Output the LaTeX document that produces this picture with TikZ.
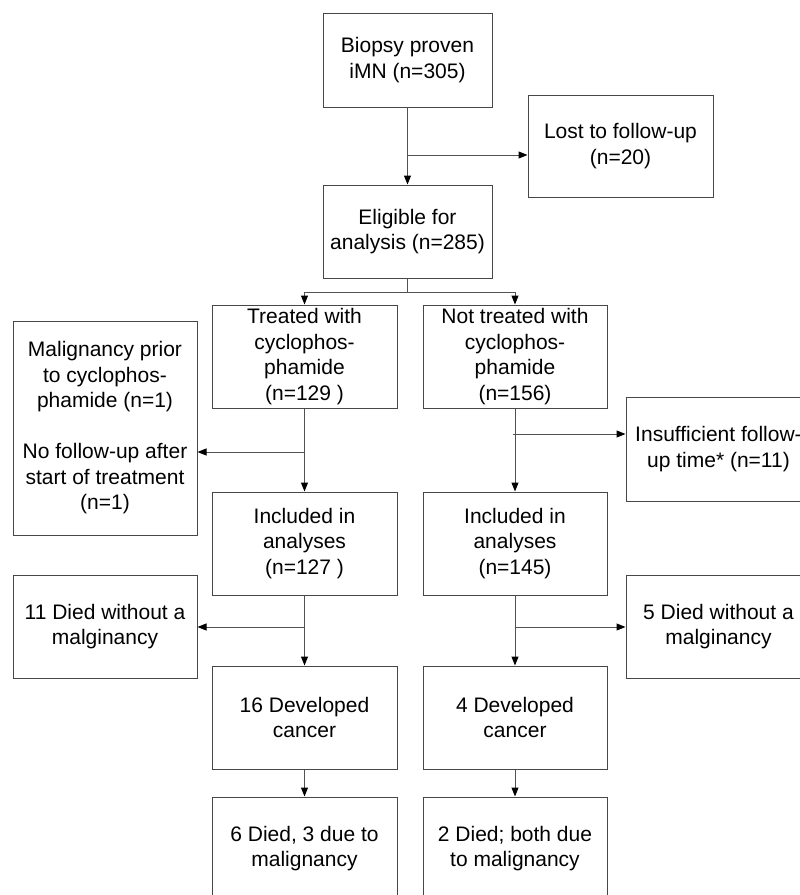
\documentclass[tikz,border=0pt]{standalone}
\usepackage{fontspec}
\setmainfont{Liberation Sans}
\usetikzlibrary{arrows.meta}
\begin{document}
\begin{tikzpicture}[x=1pt,y=-1pt,
  box/.style={draw=black!72, line width=1pt, rectangle, align=center, inner sep=0pt,
    font=\fontsize{21}{25.5}\selectfont, minimum width=185pt, minimum height=103pt},
  conn/.style={draw=black!68, line width=1pt},
  arr/.style={conn, -{Triangle[length=9pt,width=7pt,black]}}]
\fill[white] (0,0) rectangle (800,895);
\useasboundingbox (0,0) rectangle (800,895);
\begin{scope}
\clip (0,0) rectangle (800,895);
\node[box, minimum width=169pt, minimum height=94pt] (biopsy) at (407.5,60) {Biopsy proven\\iMN (n=305)};
\node[box, minimum height=102pt] (lost) at (620.5,146) {Lost to follow-up\\(n=20)};
\node[box, minimum width=169pt, minimum height=93pt] (elig) at (407.5,231.5) {Eligible for\\analysis (n=285)};
\node[box] (treat) at (304.5,356.5) {Treated with\\cyclophos-\\phamide\\(n=129 )};
\node[box, minimum width=184pt] (ntreat) at (515,356.5) {Not treated with\\cyclophos-\\phamide\\(n=156)};
\node[box, minimum width=184pt, minimum height=214pt] (malig) at (105,428) {Malignancy prior\\to cyclophos-\\phamide (n=1)\\[25.5pt]No follow-up after\\start of treatment\\(n=1)};
\node[box, minimum height=104pt] (insuf) at (718.5,449) {Insufficient follow-\\up time* (n=11)};
\node[box] (incl1) at (304.5,543.5) {Included in\\analyses\\(n=127 )};
\node[box, minimum width=184pt] (incl2) at (515,543.5) {Included in\\analyses\\(n=145)};
\node[box, minimum width=184pt] (died1) at (105,626.5) {11 Died without a\\malginancy};
\node[box] (died2) at (718.5,626.5) {5 Died without a\\malginancy};
\node[box] (dev1) at (304.5,717.5) {16 Developed\\cancer};
\node[box, minimum width=184pt] (dev2) at (515,717.5) {4 Developed\\cancer};
\node[box] (fin1) at (304.5,848.5) {6 Died, 3 due to\\malignancy};
\node[box, minimum width=184pt] (fin2) at (515,848.5) {2 Died; both due\\to malignancy};

% top
\draw[arr] (biopsy) -- (elig);
\coordinate (b1) at (407.5,155);
\draw[arr] (b1) -- (b1 -| lost.west);
% split
\coordinate (s0) at (407.5,292);
\draw[conn] (elig.south) -- (s0);
\draw[conn] (treat.north |- s0) -- (ntreat.north |- s0);
\draw[arr] (treat.north |- s0) -- (treat.north);
\draw[arr] (ntreat.north |- s0) -- (ntreat.north);
% left column
\draw[arr] (treat) -- (incl1);
\coordinate (b2) at (304.5,452);
\draw[arr] (b2) -- (b2 -| malig.east);
\draw[arr] (incl1) -- (dev1);
\coordinate (b3) at (304.5,627);
\draw[arr] (b3) -- (b3 -| died1.east);
\draw[arr] (dev1) -- (fin1);
% right column
\draw[arr] (ntreat) -- (incl2);
\coordinate (b4) at (513,434);
\draw[arr] (b4) -- (b4 -| insuf.west);
\draw[arr] (incl2) -- (dev2);
\coordinate (b5) at (515,627);
\draw[arr] (b5) -- (b5 -| died2.west);
\draw[arr] (dev2) -- (fin2);
\end{scope}
\end{tikzpicture}
\end{document}
